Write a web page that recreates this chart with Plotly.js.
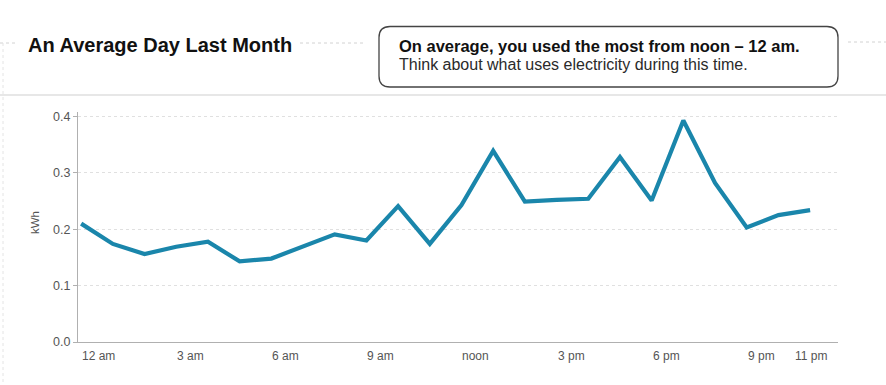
<!DOCTYPE html>
<html>
<head>
<meta charset="utf-8">
<script src="https://cdn.plot.ly/plotly-3.0.1.min.js"></script>
<style>
  html, body { margin: 0; padding: 0; background: #ffffff; }
  #chart { width: 886px; height: 385px; }
</style>
</head>
<body>
<div id="chart"></div>
<script>
// ---- data ----
const hours = [0,1,2,3,4,5,6,7,8,9,10,11,12,13,14,15,16,17,18,19,20,21,22,23];
const kwh = [0.210,0.174,0.156,0.169,0.178,0.143,0.148,0.169,0.191,0.180,0.241,0.174,
             0.243,0.339,0.249,0.252,0.254,0.328,0.251,0.393,0.282,0.203,0.225,0.234];
const tickHours = [0,3,6,9,12,15,18,21,23];
const tickLabels = ['12 am','3 am','6 am','9 am','noon','3 pm','6 pm','9 pm','11 pm'];
const titleText = 'An Average Day Last Month';
const noteLine1 = 'On average, you used the most from noon \u2013 12 am.';
const noteLine2 = 'Think about what uses electricity during this time.';
const yTitle = 'kWh';

// ---- layout helpers (pixel -> paper) ----
const W = 886, H = 385;
const L = 78, R = 838, T = 112, B = 342;
const px = p => (p - L) / (R - L);
const py = p => (B - p) / (B - T);

const font = 'Liberation Sans, Arial, Helvetica, sans-serif';

const annotations = [];
tickHours.forEach((h, i) => {
  const last = i === tickHours.length - 1;
  annotations.push({
    x: h, xref: 'x', y: py(355.5), yref: 'paper',
    text: tickLabels[i], showarrow: false,
    xanchor: last ? 'center' : 'left', yanchor: 'middle',
    xshift: last ? 1 : -1,
    font: {family: font, size: 12, color: '#555'}
  });
});
annotations.push({
  x: px(35), xref: 'paper', y: py(223), yref: 'paper',
  text: yTitle, textangle: -90, showarrow: false,
  xanchor: 'center', yanchor: 'middle',
  font: {family: font, size: 11.5, color: '#555'}
});
annotations.push({
  x: px(26), xref: 'paper', y: py(45), yref: 'paper',
  text: '<b>' + titleText + '</b>', showarrow: false,
  xanchor: 'left', yanchor: 'middle',
  font: {family: font, size: 20, color: '#111'}
});
annotations.push({
  x: px(397), xref: 'paper', y: py(46), yref: 'paper',
  text: '<b>' + noteLine1 + '</b>', showarrow: false,
  xanchor: 'left', yanchor: 'middle',
  font: {family: font, size: 16.5, color: '#111'}
});
annotations.push({
  x: px(397), xref: 'paper', y: py(64), yref: 'paper',
  text: noteLine2, showarrow: false,
  xanchor: 'left', yanchor: 'middle',
  font: {family: font, size: 16, color: '#2a2a2a'}
});

function roundRect(x0, y0, x1, y1, r) {
  const X = v => px(v), Y = v => py(v);
  return 'M' + X(x0 + r) + ',' + Y(y0) +
    ' L' + X(x1 - r) + ',' + Y(y0) +
    ' Q' + X(x1) + ',' + Y(y0) + ' ' + X(x1) + ',' + Y(y0 + r) +
    ' L' + X(x1) + ',' + Y(y1 - r) +
    ' Q' + X(x1) + ',' + Y(y1) + ' ' + X(x1 - r) + ',' + Y(y1) +
    ' L' + X(x0 + r) + ',' + Y(y1) +
    ' Q' + X(x0) + ',' + Y(y1) + ' ' + X(x0) + ',' + Y(y1 - r) +
    ' L' + X(x0) + ',' + Y(y0 + r) +
    ' Q' + X(x0) + ',' + Y(y0) + ' ' + X(x0 + r) + ',' + Y(y0) + ' Z';
}

function hline(x0, x1, y, color, dash, width) {
  return {type: 'line', xref: 'paper', yref: 'paper', x0: px(x0), x1: px(x1), y0: py(y), y1: py(y),
          line: {color: color, width: width || 1, dash: dash || 'solid'}};
}

const shapes = [
  hline(0, 17, 43, '#d2d2d2', 'dot', 1),
  hline(300, 366, 43, '#d2d2d2', 'dot', 1),
  hline(848, 886, 42, '#d2d2d2', 'dot', 1),
  hline(0, 886, 95, '#d0d0d0', 'solid', 1.2),
  {type: 'line', xref: 'paper', yref: 'paper', x0: px(3), x1: px(3), y0: py(43), y1: py(385),
   line: {color: '#e4e4e4', width: 1, dash: 'dot'}},
  {type: 'path', xref: 'paper', yref: 'paper', path: roundRect(379, 26.5, 838, 87, 11),
   line: {color: '#444', width: 1.3}, fillcolor: 'rgba(0,0,0,0)'}
];

const trace = {
  x: hours, y: kwh, type: 'scatter', mode: 'lines',
  line: {color: '#1a86ab', width: 4.2, shape: 'linear'},
  hoverinfo: 'skip'
};

const layout = {
  width: W, height: H,
  margin: {l: L, r: W - R, t: T, b: H - B, pad: 0},
  paper_bgcolor: '#ffffff', plot_bgcolor: '#ffffff',
  showlegend: false,
  font: {family: font, size: 12, color: '#555'},
  xaxis: {
    range: [-0.1, 23.88], showgrid: false, zeroline: false,
    showline: true, linecolor: '#b0b0b0', linewidth: 1,
    showticklabels: false, ticks: '', fixedrange: true
  },
  yaxis: {
    range: [0, 0.408], tickvals: [0, 0.1, 0.2, 0.3, 0.4], tickformat: '.1f',
    showgrid: true, gridcolor: '#e0e0e0', griddash: 'dot', gridwidth: 1,
    zeroline: false, showline: true, linecolor: '#b0b0b0', linewidth: 1,
    ticks: 'outside', ticklen: 4, tickcolor: '#b0b0b0', tickwidth: 1,
    tickfont: {family: font, size: 12.5, color: '#555'}, fixedrange: true
  },
  annotations: annotations,
  shapes: shapes
};

Plotly.newPlot('chart', [trace], layout, {displayModeBar: false, staticPlot: true});
</script>
</body>
</html>
